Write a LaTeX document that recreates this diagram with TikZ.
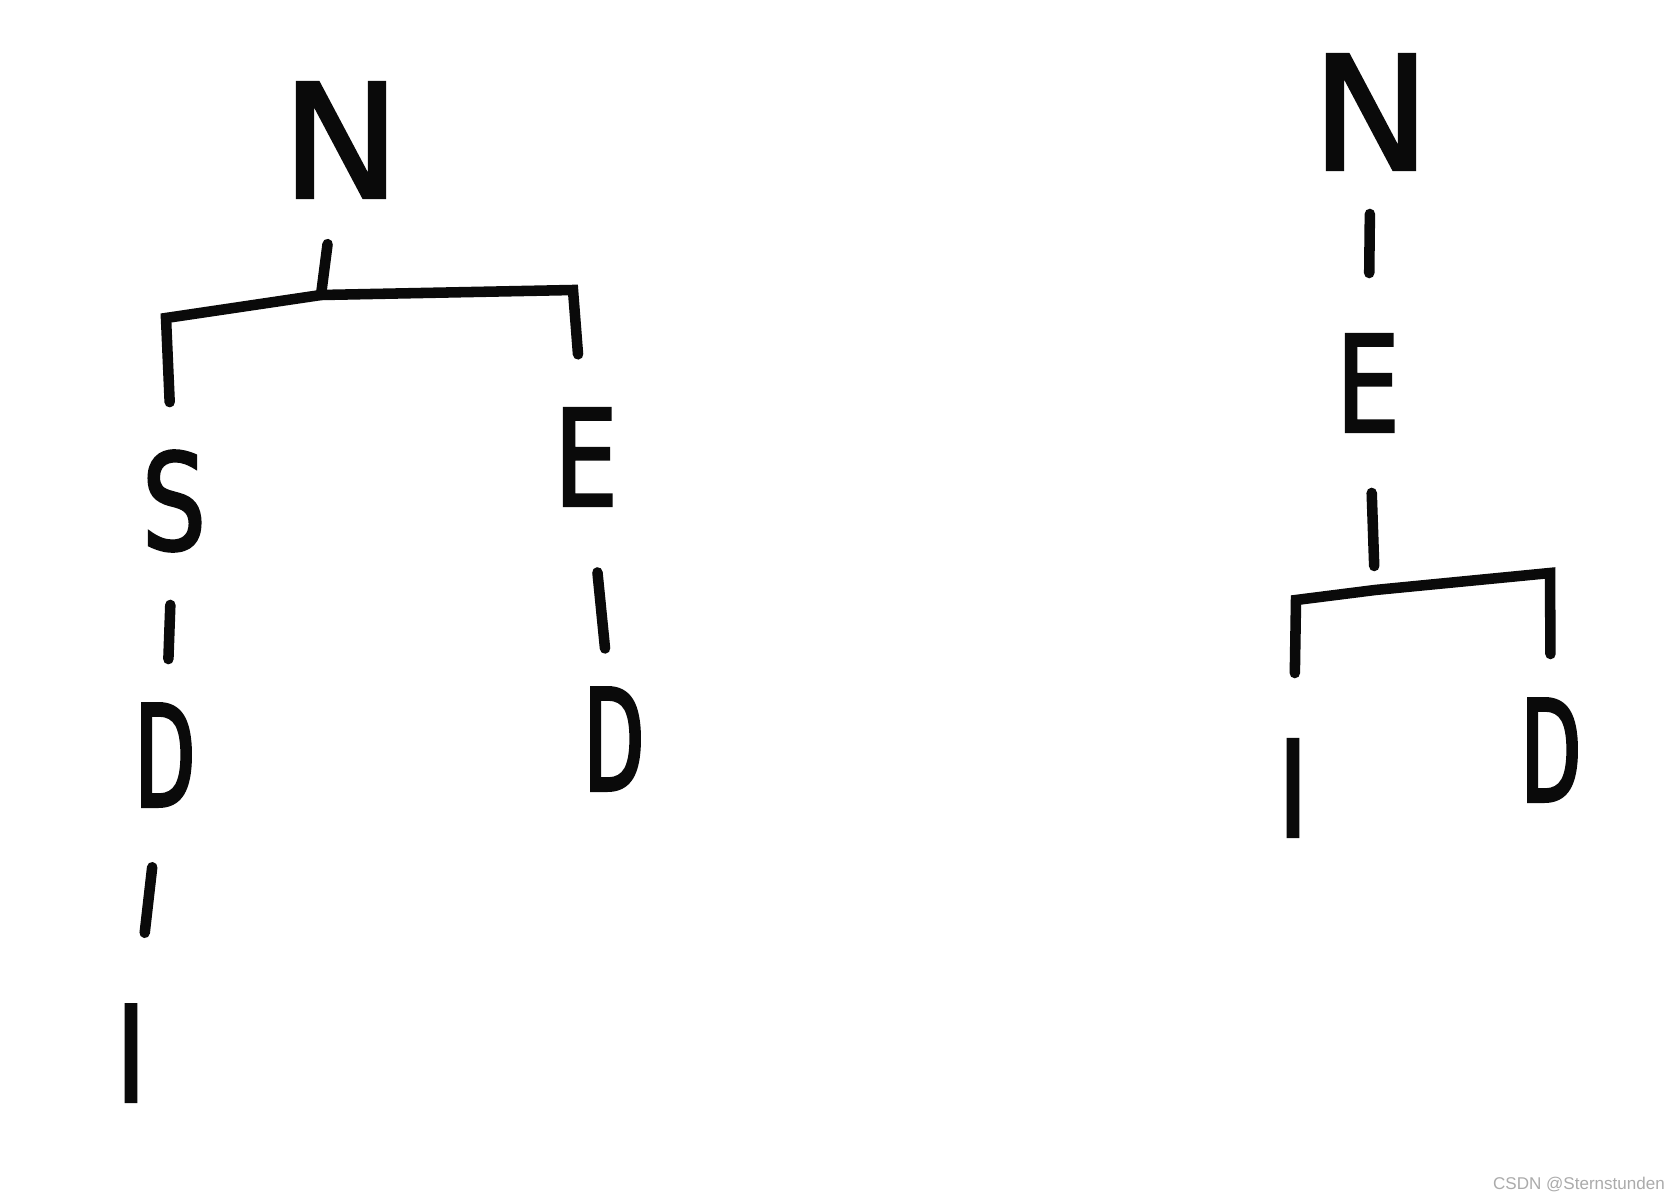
\documentclass[tikz,border=0pt]{standalone}
\usepackage{fontspec}
\setmainfont{DejaVu Sans}
\newfontfamily\handbig[FakeBold=2]{DejaVu Sans}
\newfontfamily\handfont[FakeStretch=0.75,FakeBold=2]{DejaVu Sans}
\newfontfamily\handnarrow[FakeStretch=0.55,FakeBold=2.5]{DejaVu Sans}
\newfontfamily\markfont{Liberation Sans}
\definecolor{ink}{HTML}{0A0A0A}
\definecolor{markgray}{HTML}{ABABAB}
\tikzset{
  letter/.style={inner sep=0pt,text=ink,font=\handfont\fontsize{76}{76}\selectfont},
  bigletter/.style={inner sep=0pt,text=ink,font=\handbig\fontsize{90}{90}\selectfont},
  slimletter/.style={inner sep=0pt,text=ink,font=\handnarrow\fontsize{80}{80}\selectfont},
  link/.style={draw=ink,line width=6pt,line cap=round,line join=miter},
  watermark/.style={inner sep=0pt,text=markgray,font=\markfont\fontsize{9.7}{10}\selectfont}
}
\begin{document}
\begin{tikzpicture}[x=0.02cm,y=-0.02cm]
  \fill[white] (0,0) rectangle (1680,1200);
  \useasboundingbox (0,0) rectangle (1680,1200);
  % left tree
  \node[bigletter] (nL) at (341,140) {N};
  \node[letter] (sL) at (174,501) {S};
  \node[letter] (eL) at (586,457) {E};
  \node[slimletter] (dL) at (165,755) {D};
  \node[letter] (iL) at (131,1053) {I};
  \node[slimletter] (oL) at (614,739) {D};
  \coordinate (barLL) at (166,318);
  \coordinate (forkL) at (321,295);
  \coordinate (barLR) at (573,290);
  \draw[link,shorten <=2.1cm] (nL.center) -- (forkL);
  \draw[link,shorten <=1.98cm,shorten >=2.06cm] (sL.center) -- (barLL) -- (forkL) -- (barLR) -- (eL.center);
  \draw[link,shorten <=2.08cm,shorten >=1.92cm] (sL.center) -- (dL.center);
  \draw[link,shorten <=2.26cm,shorten >=2.42cm] (dL.center) -- (iL.center);
  \draw[link,shorten <=2.32cm,shorten >=1.82cm] (eL.center) -- (oL.center);
  % right tree
  \node[bigletter] (nR) at (1371,112) {N};
  \node[letter] (eR) at (1368,383) {E};
  \node[letter] (iR) at (1293,788) {I};
  \node[slimletter] (dR) at (1551,750) {D};
  \coordinate (barRL) at (1296,600);
  \coordinate (forkR) at (1375,590);
  \coordinate (barRR) at (1550,573);
  \draw[link,shorten <=2.04cm,shorten >=2.2cm] (nR.center) -- (eR.center);
  \draw[link,shorten <=2.2cm,shorten >=0.48cm] (eR.center) -- (forkR);
  \draw[link,shorten <=2.3cm,shorten >=1.92cm] (iR.center) -- (barRL) -- (forkR) -- (barRR) -- (dR.center);
  \node[watermark] (mark) at (1579,1184) {CSDN @Sternstunden};
\end{tikzpicture}
\end{document}
